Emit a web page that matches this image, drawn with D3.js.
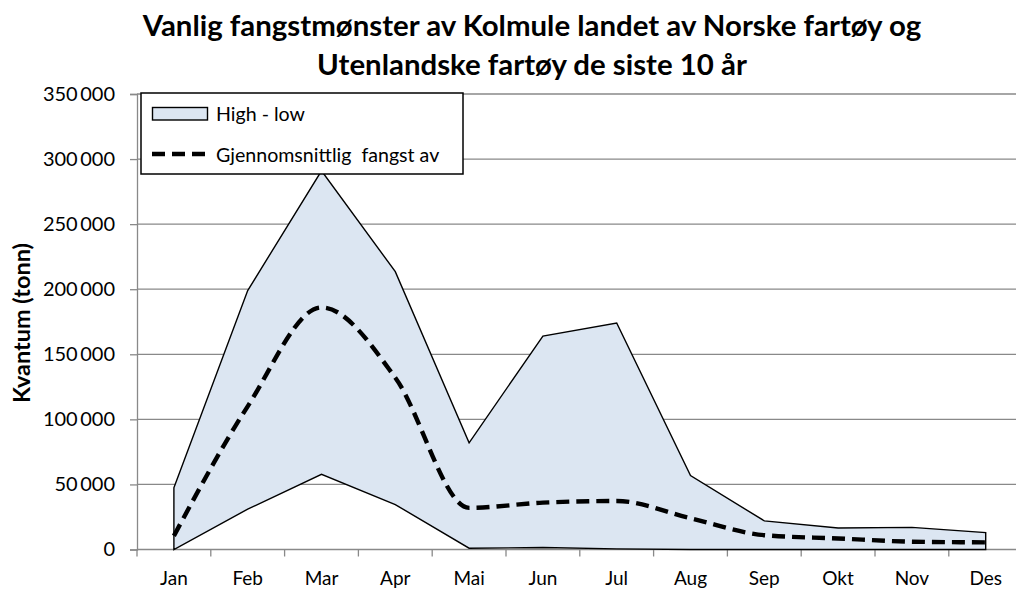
<!DOCTYPE html>
<html lang="no">
<head>
    <meta charset="UTF-8">
    <title>Kolmule - fangstmønster</title>
    <script src="https://d3js.org/d3.v7.min.js"></script>
    <style>
        html, body {
            margin: 0;
            background: #fff;
        }
        svg text {
            font-family: Lato, "Open Sans", sans-serif;
            fill: #000;
        }
    </style>
</head>
<body>
    <div id="vis"></div>
    <script>
        // data (tonn)
        var months = ["Jan", "Feb", "Mar", "Apr", "Mai", "Jun", "Jul", "Aug", "Sep", "Okt", "Nov", "Des"];
        var highValues = [47500, 199000, 291000, 213500, 82000, 164000, 174000, 56800, 22000, 16500, 17000, 13000];
        var lowValues = [0, 31000, 57800, 34500, 1000, 1500, 500, 0, 0, 0, 0, 0];
        var meanValues = [10500, 110000, 186000, 132000, 32000, 36000, 37300, 24000, 11000, 8500, 6000, 5500];
        var yTicks = [0, 50000, 100000, 150000, 200000, 250000, 300000, 350000];

        var titleLines = ["Vanlig fangstmønster av Kolmule landet av Norske fartøy og",
                          "Utenlandske fartøy de siste 10 år"];
        var yLabel = "Kvantum (tonn)";
        var legendLabels = ["High - low", "Gjennomsnittlig  fangst av"];

        var W = 1016, H = 590;
        var plot = {left: 137, top: 94, bottom: 549.5, step: 73.8};
        var gridColor = "#898989";

        var svg = d3.select("#vis")
            .append("svg")
                .attr("width", W)
                .attr("height", H);

        var x = d3.scaleBand()
            .domain(months)
            .range([plot.left, plot.left + plot.step * months.length]);

        var y = d3.scaleLinear()
            .domain([0, 350000])
            .range([plot.bottom, plot.top]);

        var cx = function(i) { return x(months[i]) + x.bandwidth() / 2; };

        var fmt = d3.formatLocale({decimal: ",", thousands: "\u2009", grouping: [3], currency: ["", " kr"]}).format(",d");

        // shrink/grow a text selection so its first element has the given width
        function fitWidth(sel, size, target) {
            sel.style("font-size", size + "px");
            var w = sel.node().getComputedTextLength();
            sel.style("font-size", (size * target / w) + "px");
        }

        // gridlines
        svg.append("g")
            .selectAll("line")
            .data(yTicks.slice(1))
            .enter()
            .append("line")
                .attr("x1", plot.left)
                .attr("x2", W)
                .attr("y1", function(d) { return y(d); })
                .attr("y2", function(d) { return y(d); })
                .attr("stroke", gridColor)
                .attr("stroke-width", 1.3);

        // y axis
        var yAxis = svg.append("g")
            .attr("transform", "translate(" + plot.left + ",0)")
            .call(d3.axisLeft(y).tickValues(yTicks).tickSize(7).tickPadding(15).tickFormat(fmt));
        yAxis.select(".domain").attr("stroke", gridColor).attr("stroke-width", 1.3);
        yAxis.selectAll(".tick line").attr("stroke", gridColor).attr("stroke-width", 1.3);
        yAxis.selectAll(".tick text").style("font-size", "20px").attr("fill", "#000");

        // x axis line and ticks at category edges
        svg.append("line")
            .attr("x1", plot.left)
            .attr("x2", W)
            .attr("y1", y(0))
            .attr("y2", y(0))
            .attr("stroke", gridColor)
            .attr("stroke-width", 1.3);

        svg.append("g")
            .selectAll("line")
            .data(months)
            .enter()
            .append("line")
                .attr("x1", function(d) { return x(d); })
                .attr("x2", function(d) { return x(d); })
                .attr("y1", y(0))
                .attr("y2", y(0) + 7)
                .attr("stroke", gridColor)
                .attr("stroke-width", 1.3);

        svg.append("g")
            .selectAll("text")
            .data(months)
            .enter()
            .append("text")
                .attr("x", function(d, i) { return cx(i); })
                .attr("y", 585)
                .attr("text-anchor", "middle")
                .style("font-size", "19px")
                .text(function(d) { return d; });

        // high - low band
        var area = d3.area()
            .x(function(d, i) { return cx(i); })
            .y0(function(d, i) { return y(lowValues[i]); })
            .y1(function(d) { return y(d); });

        svg.append("path")
            .datum(highValues)
            .attr("d", function(d) { return area(d) + "Z"; })
            .attr("fill", "#dce6f2")
            .attr("stroke", "#000")
            .attr("stroke-width", 1.4)
            .attr("stroke-linejoin", "miter");

        // average line, lightly smoothed
        var line = d3.line()
            .x(function(d, i) { return cx(i); })
            .y(function(d) { return y(d); })
            .curve(d3.curveMonotoneX);

        svg.append("path")
            .datum(meanValues)
            .attr("d", line)
            .attr("fill", "none")
            .attr("stroke", "#000")
            .attr("stroke-width", 4.4)
            .attr("stroke-dasharray", "13,7");

        // legend
        var lg = svg.append("g");
        lg.append("rect")
            .attr("x", 141).attr("y", 93)
            .attr("width", 322).attr("height", 81)
            .attr("fill", "#fff")
            .attr("stroke", "#000")
            .attr("stroke-width", 1.5);
        lg.append("rect")
            .attr("x", 152.5).attr("y", 107.5)
            .attr("width", 55).attr("height", 12.5)
            .attr("fill", "#dce6f2")
            .attr("stroke", "#000")
            .attr("stroke-width", 1.4);
        lg.append("line")
            .attr("x1", 152).attr("x2", 207)
            .attr("y1", 154).attr("y2", 154)
            .attr("stroke", "#000")
            .attr("stroke-width", 4.4)
            .attr("stroke-dasharray", "13,7");
        var lgText = lg.selectAll(".lgtext")
            .data(legendLabels)
            .enter()
            .append("text")
                .attr("class", "lgtext")
                .attr("x", 216)
                .attr("y", function(d, i) { return 121 + i * 41; })
                .style("white-space", "pre")
                .text(function(d) { return d; });
        fitWidth(lgText, 20, 89);

        // title, font size fitted to the first line width
        var title = svg.append("g").selectAll("text")
            .data(titleLines)
            .enter()
            .append("text")
                .attr("x", 532)
                .attr("y", function(d, i) { return 36 + i * 39; })
                .attr("text-anchor", "middle")
                .style("font-weight", "bold")
                .text(function(d) { return d; });
        fitWidth(title, 24, 779);

        // y axis title
        var yTitle = svg.append("text")
            .attr("transform", "translate(30,323) rotate(-90)")
            .attr("text-anchor", "middle")
            .style("font-weight", "bold")
            .text(yLabel);
        fitWidth(yTitle, 18, 160);
    </script>
</body>
</html>
